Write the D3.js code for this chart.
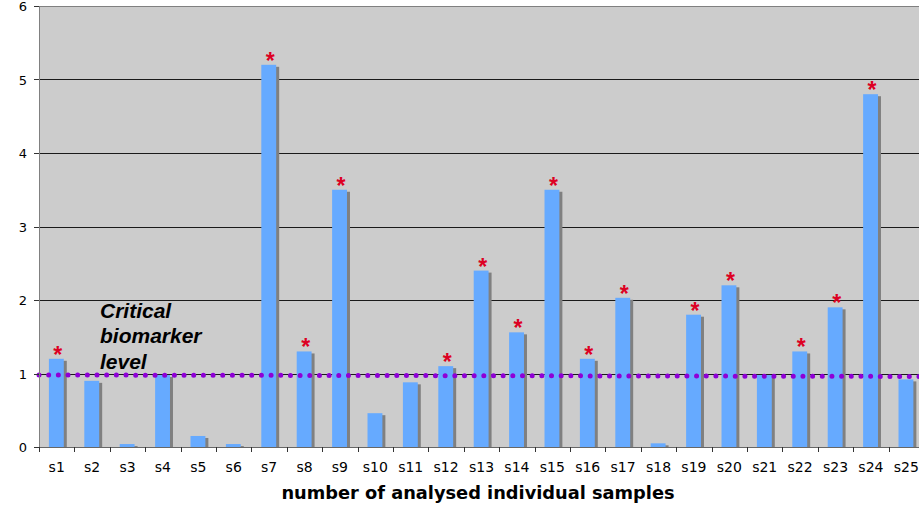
<!DOCTYPE html>
<html>
<head>
<meta charset="utf-8">
<script src="https://cdn.jsdelivr.net/npm/d3@7"></script>
<style>
  html, body { margin: 0; padding: 0; background: #fff; }
  svg { display: block; }
</style>
</head>
<body>
<svg id="chart" width="919" height="505"></svg>
<script>
const categories = ["s1","s2","s3","s4","s5","s6","s7","s8","s9","s10","s11","s12","s13","s14","s15","s16","s17","s18","s19","s20","s21","s22","s23","s24","s25"];
const values = [1.2, 0.9, 0.04, 0.98, 0.15, 0.04, 5.2, 1.3, 3.5, 0.46, 0.88, 1.1, 2.4, 1.56, 3.5, 1.2, 2.03, 0.05, 1.8, 2.2, 0.98, 1.3, 1.9, 4.8, 0.92];
const significant = ["s1","s7","s8","s9","s12","s13","s14","s15","s16","s17","s19","s20","s22","s23","s24"];
const yTicks = [0, 1, 2, 3, 4, 5, 6];
const criticalLevel = [0.98, 0.96]; // start / end of the dotted critical line
const criticalLabel = ["Critical", "biomarker", "level"];
const xAxisTitle = "number of analysed individual samples";

(function () {
const svg = d3.select("#chart");
const pL = 39, pR = 924, pT = 6, pB = 447;

const x = d3.scaleBand().domain(categories).range([pL, pR]).padding(0);
const y = d3.scaleLinear().domain([0, 6]).range([pB, pT]);

// plot background
svg.append("rect").attr("x", pL).attr("y", pT)
  .attr("width", pR - pL).attr("height", pB - pT).attr("fill", "#cccccc");

// gridlines
svg.append("g").selectAll("line").data(yTicks.filter(d => d > 0 && d < 6)).join("line")
  .attr("x1", pL).attr("x2", pR)
  .attr("y1", d => Math.round(y(d)) + 0.5).attr("y2", d => Math.round(y(d)) + 0.5)
  .attr("stroke", "#1a1a1a").attr("stroke-width", 1);

// top border
svg.append("line").attr("x1", pL).attr("x2", pR)
  .attr("y1", pT + 0.5).attr("y2", pT + 0.5).attr("stroke", "#808080");

const barOff = x.bandwidth() * 0.28, barW = x.bandwidth() * 0.42;

// shadows
svg.append("g").selectAll("rect").data(categories).join("rect")
  .attr("x", (d) => x(d) + barOff + 3)
  .attr("y", (d, i) => y(values[i]) + 2)
  .attr("width", barW)
  .attr("height", (d, i) => Math.max(0, pB - y(values[i]) - 2))
  .attr("fill", "#808080");

// bars
svg.append("g").selectAll("rect").data(categories).join("rect")
  .attr("x", (d) => x(d) + barOff)
  .attr("y", (d, i) => y(values[i]))
  .attr("width", barW)
  .attr("height", (d, i) => pB - y(values[i]))
  .attr("fill", "#66aaff");

// dotted critical level line
svg.append("line")
  .attr("x1", pL).attr("x2", 919)
  .attr("y1", y(criticalLevel[0])).attr("y2", y(criticalLevel[1]))
  .attr("stroke", "#8e00d6").attr("stroke-width", 5)
  .attr("stroke-linecap", "round").attr("stroke-dasharray", "0,9.67");

// asterisks
svg.append("g").selectAll("text").data(categories.filter(c => significant.includes(c))).join("text")
  .attr("x", d => x(d) + barOff + barW / 2 + 1.5)
  .attr("y", d => y(values[categories.indexOf(d)]) + 4)
  .attr("text-anchor", "middle")
  .attr("font-family", "Liberation Sans, Arial, sans-serif")
  .attr("font-weight", "bold")
  .attr("font-size", 23)
  .attr("fill", "#dd0022")
  .text("*");

// axes lines
svg.append("line").attr("x1", pL + 0.5).attr("x2", pL + 0.5).attr("y1", pT).attr("y2", pB)
  .attr("stroke", "#808080");
svg.append("line").attr("x1", pL).attr("x2", pR).attr("y1", pB + 0.5).attr("y2", pB + 0.5)
  .attr("stroke", "#666666");

// y ticks and labels
const yg = svg.append("g");
yg.selectAll("line").data(yTicks).join("line")
  .attr("x1", pL - 5).attr("x2", pL)
  .attr("y1", d => Math.round(y(d)) + 0.5).attr("y2", d => Math.round(y(d)) + 0.5)
  .attr("stroke", "#333");
yg.selectAll("text").data(yTicks).join("text")
  .attr("x", 27).attr("y", d => y(d) + 5)
  .attr("text-anchor", "end")
  .attr("font-family", "DejaVu Sans, Verdana, sans-serif")
  .attr("font-size", 13).attr("fill", "#000")
  .text(d => d);

// x ticks at band boundaries
const xg = svg.append("g");
xg.selectAll("line").data(categories).join("line")
  .attr("x1", d => Math.round(x(d)) + 0.5).attr("x2", d => Math.round(x(d)) + 0.5)
  .attr("y1", pB).attr("y2", pB + 5)
  .attr("stroke", "#333");
xg.selectAll("text").data(categories).join("text")
  .attr("x", d => x(d) + x.bandwidth() / 2)
  .attr("y", 472)
  .attr("text-anchor", "middle")
  .attr("font-family", "DejaVu Sans, Verdana, sans-serif")
  .attr("font-size", 14).attr("fill", "#000")
  .text(d => d);

// x axis title
svg.append("text")
  .attr("x", 478).attr("y", 499)
  .attr("text-anchor", "middle")
  .attr("font-family", "DejaVu Sans, Verdana, sans-serif")
  .attr("font-weight", "bold")
  .attr("font-size", 17.8).attr("fill", "#000")
  .text(xAxisTitle);

// critical label
svg.append("g").selectAll("text").data(criticalLabel).join("text")
  .attr("x", 100).attr("y", (d, i) => 318 + i * 25.3)
  .attr("font-family", "Liberation Sans, Arial, sans-serif")
  .attr("font-weight", "bold").attr("font-style", "italic")
  .attr("font-size", 21).attr("fill", "#000")
  .text(d => d);
})();
</script>
</body>
</html>
